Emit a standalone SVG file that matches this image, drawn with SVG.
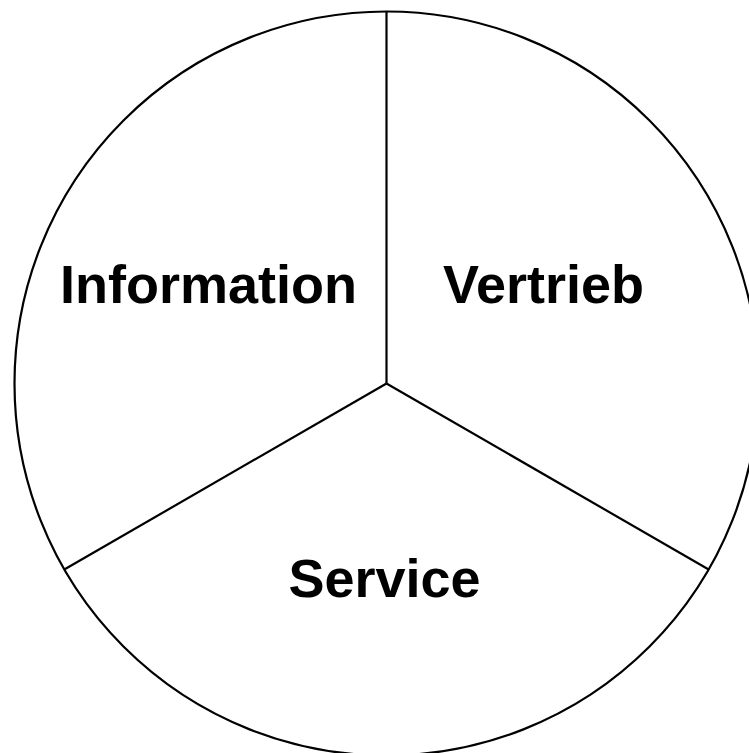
<svg xmlns="http://www.w3.org/2000/svg" width="749" height="753" viewBox="0 0 749 753">
<style>
.shape{fill:none;stroke:#000;stroke-width:2.2}
.lbl{font-family:"Liberation Sans",Arial,sans-serif;font-weight:bold;font-size:54px;fill:#000;text-anchor:middle}
</style>
<rect width="749" height="753" fill="#fff"/>
<g id="circle"><circle class="shape" cx="386.5" cy="383.5" r="372"/></g>
<g id="connectors">
<line class="shape" x1="386.5" y1="383.5" x2="386.5" y2="11.5"/>
<line class="shape" x1="386.5" y1="383.5" x2="64.3" y2="569.5"/>
<line class="shape" x1="386.5" y1="383.5" x2="708.7" y2="569.5"/>
</g>
<g id="information"><text class="lbl" x="208.5" y="302.5">Information</text></g>
<g id="vertrieb"><text class="lbl" x="543.5" y="302.5">Vertrieb</text></g>
<g id="service"><text class="lbl" x="384.5" y="596.5">Service</text></g>
</svg>
